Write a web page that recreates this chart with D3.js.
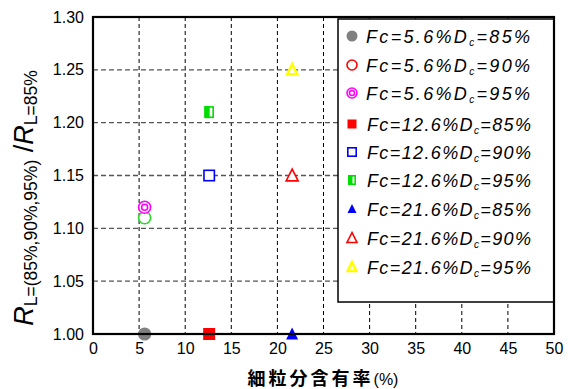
<!DOCTYPE html>
<html>
<head>
<meta charset="utf-8">
<script src="https://cdn.jsdelivr.net/npm/d3@7"></script>
<style>
  body { margin: 0; background: #fff; }
  svg text { font-family: "Liberation Sans", Arial, sans-serif; }
</style>
</head>
<body>
<svg id="chart" width="576" height="389"></svg>
<script>
// data
const fc_values = [5.6, 5.6, 5.6, 12.6, 12.6, 12.6, 21.6, 21.6, 21.6];
const dc_labels = ["85%", "90%", "95%", "85%", "90%", "95%", "85%", "90%", "95%"];
const ratio_values = [1.00, 1.11, 1.12, 1.00, 1.15, 1.21, 1.00, 1.15, 1.25];
const fc_labels = ["5.6%", "5.6%", "5.6%", "12.6%", "12.6%", "12.6%", "21.6%", "21.6%", "21.6%"];
const shapes = ["dot", "circle", "double", "fsquare", "square", "half", "ftri", "tri", "tri"];
const legend_colors = ["#808080", "#ff0000", "#ff00ff", "#ff0000", "#0000ff", "#00dd00", "#0000ff", "#ff0000", "#ffff00"];
// the plotted 5.6%/90% point is drawn green in the original figure
const point_colors = ["#808080", "#22dd22", "#ff00ff", "#ff0000", "#0000ff", "#00dd00", "#0000ff", "#ff0000", "#ffff00"];
const x_ticks = [0, 5, 10, 15, 20, 25, 30, 35, 40, 45, 50];
const y_ticks = [1.00, 1.05, 1.10, 1.15, 1.20, 1.25, 1.30];

const svg = d3.select("#chart");
const margins = { top: 17, right: 22, bottom: 55, left: 93 };
const width = 576, height = 389;

const x = d3.scaleLinear().domain([0, 50]).range([margins.left, width - margins.right]);
const y = d3.scaleLinear().domain([1.0, 1.3]).range([height - margins.bottom, margins.top]);

// grid
svg.append("g")
    .selectAll("line")
    .data(x_ticks.slice(1, -1))
    .join("line")
    .attr("x1", d => x(d)).attr("x2", d => x(d))
    .attr("y1", y(1.3)).attr("y2", y(1.0))
    .attr("stroke", "#000")
    .attr("stroke-width", 1)
    .attr("stroke-dasharray", "4,3");

svg.append("g")
    .selectAll("line")
    .data(y_ticks.slice(1, -1))
    .join("line")
    .attr("x1", x(0)).attr("x2", x(50))
    .attr("y1", d => y(d)).attr("y2", d => y(d))
    .attr("stroke", "#555")
    .attr("stroke-width", 1.3)
    .attr("stroke-dasharray", "5,3");

// axes labels
const x_axis = d3.axisBottom(x).tickValues(x_ticks).tickSize(0).tickPadding(9).tickFormat(d3.format("d"));
svg.append("g")
    .attr("transform", `translate(0,${y(1.0)})`)
    .call(x_axis)
    .call(g => g.select(".domain").remove())
    .selectAll("text")
    .style("font-size", "16px")
    .style("font-family", "'Liberation Sans', Arial, sans-serif")
    .attr("fill", "#000");

const y_axis = d3.axisLeft(y).tickValues(y_ticks).tickSize(0).tickPadding(9).tickFormat(d3.format(".2f"));
svg.append("g")
    .attr("transform", `translate(${x(0)},0)`)
    .call(y_axis)
    .call(g => g.select(".domain").remove())
    .selectAll("text")
    .style("font-size", "16px")
    .style("font-family", "'Liberation Sans', Arial, sans-serif")
    .attr("fill", "#000");

// legend box
const legend_x = 338, legend_y = 19;
svg.append("rect")
    .attr("x", legend_x).attr("y", legend_y)
    .attr("width", x(50) - legend_x).attr("height", 283)
    .attr("fill", "#fff")
    .attr("stroke", "#000")
    .attr("stroke-width", 1.5);

// markers
function draw_marker(g, shape, color, cx, cy, s) {
    if (shape === "dot") {
        g.append("circle").attr("cx", cx).attr("cy", cy).attr("r", s * 0.55).attr("fill", color);
    } else if (shape === "circle") {
        g.append("circle").attr("cx", cx).attr("cy", cy).attr("r", s * 0.5)
            .attr("fill", "#fff").attr("stroke", color).attr("stroke-width", 1.6);
    } else if (shape === "double") {
        g.append("circle").attr("cx", cx).attr("cy", cy).attr("r", s * 0.5)
            .attr("fill", "#fff").attr("stroke", color).attr("stroke-width", 1.6);
        g.append("circle").attr("cx", cx).attr("cy", cy).attr("r", s * 0.25)
            .attr("fill", "none").attr("stroke", color).attr("stroke-width", 1.6);
    } else if (shape === "fsquare") {
        g.append("rect").attr("x", cx - s / 2).attr("y", cy - s / 2).attr("width", s).attr("height", s).attr("fill", color);
    } else if (shape === "square") {
        g.append("rect").attr("x", cx - s / 2 + 0.8).attr("y", cy - s / 2 + 0.8).attr("width", s - 1.6).attr("height", s - 1.6)
            .attr("fill", "#fff").attr("stroke", color).attr("stroke-width", 1.6);
    } else if (shape === "half") {
        const w = s * 0.8;
        g.append("rect").attr("x", cx - w / 2 + 0.8).attr("y", cy - s / 2 + 0.8).attr("width", w - 1.6).attr("height", s - 1.6)
            .attr("fill", "#fff").attr("stroke", color).attr("stroke-width", 1.6);
        g.append("rect").attr("x", cx - w / 2).attr("y", cy - s / 2).attr("width", w / 2 + 0.5).attr("height", s).attr("fill", color);
    } else if (shape === "ftri" || shape === "tri") {
        const yellow = color === "#ffff00";
        const ss = yellow ? s * 0.85 : s;
        const h = ss * 0.9;
        const pts = [[cx, cy - h / 2 - 1], [cx - ss / 2, cy + h / 2], [cx + ss / 2, cy + h / 2]];
        const p = g.append("polygon").attr("points", pts.map(q => q.join(",")).join(" "));
        if (shape === "ftri") p.attr("fill", color);
        else p.attr("fill", "#fff").attr("stroke", color).attr("stroke-width", yellow ? 2.6 : 1.6);
    }
}

const points = svg.append("g");
d3.range(fc_values.length).forEach(i => {
    draw_marker(points, shapes[i], point_colors[i], x(fc_values[i]), y(ratio_values[i]), 12);
});

// legend entries, each stretched to the same width as in the figure
const legend_rows = [36, 65, 93, 124, 152, 180, 209, 238, 267];
const legend = svg.append("g");
d3.range(fc_values.length).forEach(i => {
    const ly = legend_rows[i];
    draw_marker(legend, shapes[i], legend_colors[i], 352, ly, shapes[i].startsWith("f") ? 9 : 10);
    const t = legend.append("text")
        .attr("x", fc_labels[i].length > 4 ? 367 : 366)
        .attr("y", ly + 6.5)
        .attr("textLength", 164)
        .attr("lengthAdjust", "spacing")
        .style("font-size", "18px")
        .style("font-style", "italic")
        .attr("fill", "#000");
    t.append("tspan").text("Fc=" + fc_labels[i] + "D");
    t.append("tspan").text("c").style("font-size", "10px").attr("dy", 3);
    t.append("tspan").text("=" + dc_labels[i]).attr("dy", -3);
});

// plot frame
svg.append("rect")
    .attr("x", x(0)).attr("y", y(1.3))
    .attr("width", x(50) - x(0)).attr("height", y(1.0) - y(1.3))
    .attr("fill", "none")
    .attr("stroke", "#000")
    .attr("stroke-width", 2.2);

// x title
const xt = svg.append("text")
    .attr("x", 323).attr("y", 385)
    .attr("text-anchor", "middle")
    .attr("fill", "#000");
xt.append("tspan").text("細粒分含有率")
    .style("font-family", "'Noto Sans CJK JP', sans-serif")
    .style("font-weight", "bold")
    .style("font-size", "18px")
    .style("letter-spacing", "3px");
xt.append("tspan").text("(%)")
    .style("font-size", "16px")
    .style("font-family", "'Liberation Sans', Arial, sans-serif");

// y title
const yt = svg.append("text")
    .attr("transform", "translate(33,198) rotate(-90)")
    .attr("text-anchor", "middle")
    .attr("fill", "#000");
yt.append("tspan").text("R").style("font-style", "italic").style("font-size", "27px");
yt.append("tspan").text("L=(85%,90%,95%)").style("font-size", "17.5px").attr("dy", 4);
yt.append("tspan").text(" /").style("font-size", "27px").attr("dy", -4);
yt.append("tspan").text("R").style("font-style", "italic").style("font-size", "27px");
yt.append("tspan").text("L=85%").style("font-size", "17.5px").attr("dy", 4);
</script>
</body>
</html>
